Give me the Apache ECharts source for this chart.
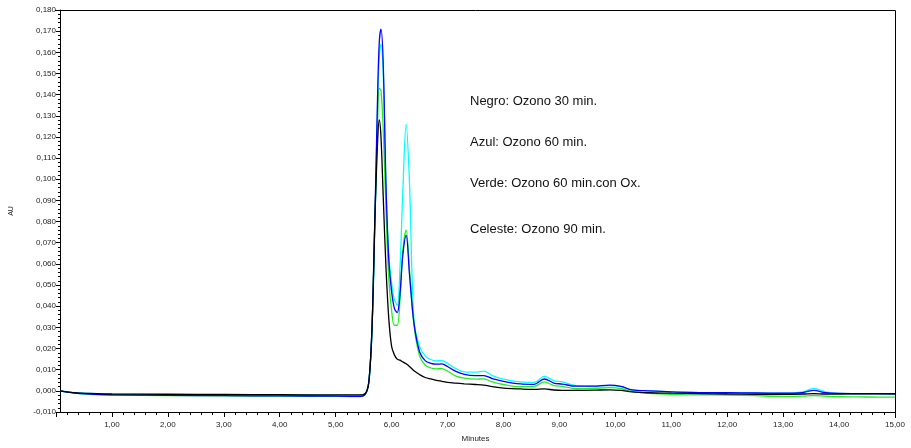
<!DOCTYPE html>
<html>
<head>
<meta charset="utf-8">
<script src="https://cdn.jsdelivr.net/npm/echarts@6/dist/echarts.min.js"></script>
<style>html,body{margin:0;padding:0;background:#fff}#c{width:911px;height:448px}</style>
</head>
<body>
<div id="c"></div>
<script>
const times = [0.07, 0.3, 0.6, 1.0, 2.0, 3.0, 4.0, 5.0, 5.45, 5.55, 5.6, 5.65, 5.7, 5.75, 5.78, 5.81, 5.85, 5.9, 5.95, 6.0, 6.05, 6.1, 6.15, 6.2, 6.26, 6.32, 6.4, 6.5, 6.6, 6.7, 6.8, 6.9, 7.0, 7.15, 7.3, 7.5, 7.65, 7.8, 8.0, 8.3, 8.55, 8.73, 8.9, 9.05, 9.3, 9.6, 9.9, 10.1, 10.3, 10.6, 11.0, 11.5, 12.0, 12.5, 13.0, 13.35, 13.55, 13.75, 14.0, 14.5, 15.0];

const negro = [0, -0.0008, -0.0012, -0.0015, -0.0016, -0.0017, -0.0018, -0.0019, -0.0019, -0.0004, 0.006, 0.03, 0.08, 0.118, 0.128, 0.12, 0.092, 0.058, 0.034, 0.021, 0.017, 0.015, 0.0145, 0.0137, 0.0128, 0.0115, 0.0095, 0.0077, 0.0063, 0.0056, 0.005, 0.0045, 0.004, 0.0036, 0.0033, 0.003, 0.0027, 0.002, 0.0013, 0.0009, 0.0007, 0.0009, 0.0004, 0.0002, 0.0002, 0.0003, 0.0005, 0.0002, -0.0005, -0.0009, -0.0011, -0.0013, -0.0015, -0.0016, -0.0016, -0.0015, -0.0013, -0.0015, -0.0015, -0.0014, -0.0014];

const azul = [0, -0.0009, -0.0015, -0.0019, -0.0021, -0.0023, -0.0024, -0.0025, -0.0026, -0.0006, 0.006, 0.03, 0.08, 0.14, 0.165, 0.171, 0.155, 0.097, 0.062, 0.047, 0.039, 0.037, 0.046, 0.064, 0.0735, 0.055, 0.032, 0.0185, 0.0143, 0.013, 0.0126, 0.0127, 0.0115, 0.0092, 0.0078, 0.0072, 0.0072, 0.0058, 0.0045, 0.0033, 0.0031, 0.0056, 0.0037, 0.0032, 0.0022, 0.0022, 0.0027, 0.0021, 0.0005, 0, -0.0005, -0.0008, -0.0009, -0.001, -0.0011, -0.0008, 0.0002, -0.0008, -0.0012, -0.0013, -0.0014];

const verde = [0, -0.001, -0.0016, -0.002, -0.0022, -0.0024, -0.0025, -0.0026, -0.0027, -0.0007, 0.0055, 0.029, 0.078, 0.128, 0.143, 0.142, 0.124, 0.085, 0.053, 0.038, 0.031, 0.031, 0.043, 0.066, 0.076, 0.057, 0.031, 0.0165, 0.0122, 0.0108, 0.0104, 0.0105, 0.0094, 0.007, 0.006, 0.0055, 0.0057, 0.0042, 0.003, 0.002, 0.0021, 0.0042, 0.0025, 0.0021, 0.001, 0.0012, 0.0015, 0.0011, -0.0004, -0.0012, -0.0017, -0.0019, -0.002, -0.0023, -0.0026, -0.0025, -0.0022, -0.0025, -0.0028, -0.0029, -0.003];

const celeste = [0, -0.0007, -0.0012, -0.0016, -0.0018, -0.0019, -0.002, -0.0021, -0.0022, -0.0005, 0.006, 0.029, 0.078, 0.135, 0.158, 0.1637, 0.15, 0.095, 0.064, 0.051, 0.043, 0.0405, 0.058, 0.094, 0.126, 0.098, 0.033, 0.021, 0.0165, 0.0148, 0.0142, 0.0143, 0.013, 0.0105, 0.009, 0.0088, 0.0093, 0.0072, 0.0055, 0.0042, 0.004, 0.0068, 0.0048, 0.0042, 0.0025, 0.0022, 0.0025, 0.002, 0.0004, 0, -0.0005, -0.0008, -0.0009, -0.001, -0.0011, -0.0005, 0.0012, -0.0005, -0.0012, -0.0013, -0.0014];

const legendTexts = ['Negro: Ozono 30 min.', 'Azul: Ozono 60 min.', 'Verde: Ozono 60 min.con Ox.', 'Celeste: Ozono 90 min.'];
const legendY = [101, 142, 183, 229];

function pairs(vals){ return times.map((t,i)=>[t, vals[i]]); }
const font = 'Liberation Sans, Arial, sans-serif';
const chart = echarts.init(document.getElementById('c'), null, {renderer:'canvas'});
function mkSeries(name, vals, color){
  return {name, type:'line', data:pairs(vals), smooth:0.35, showSymbol:false, symbol:'none',
    lineStyle:{color, width:1.3}, itemStyle:{color}, animation:false, z:2};
}
chart.setOption({
  animation:false,
  grid:{left:51, right:16, top:10, bottom:30, show:false},
  xAxis:{type:'value', min:0, max:15, interval:1,
    axisLine:{onZero:false, lineStyle:{color:'#000', width:1}},
    axisTick:{length:5, lineStyle:{color:'#000'}},
    minorTick:{show:true, splitNumber:5, length:3, lineStyle:{color:'#000'}},
    splitLine:{show:false},
    axisLabel:{fontSize:8, fontFamily:font, color:'#222', margin:9,
      formatter:v=> v>0.5 ? v.toFixed(2).replace('.',',') : ''},
    name:'Minutes', nameLocation:'middle', nameGap:23, nameTextStyle:{fontSize:8, fontFamily:font, color:'#222'}
  },
  yAxis:{type:'value', min:-0.01, max:0.18, interval:0.01, offset:-4,
    axisLine:{show:true, lineStyle:{color:'#000', width:1}},
    axisTick:{show:true, length:4, lineStyle:{color:'#000'}},
    minorTick:{show:true, splitNumber:5, length:2, lineStyle:{color:'#000'}},
    splitLine:{show:false},
    axisLabel:{fontSize:8, fontFamily:font, color:'#222', margin:4,
      formatter:v=> (v<0?'-':'') + Math.abs(v).toFixed(3).replace('.',',')},
    name:'AU', nameLocation:'middle', nameGap:45, nameRotate:90, nameTextStyle:{fontSize:7, fontFamily:font, color:'#222'}
  },
  graphic: [{type:'polyline', shape:{points:[[55,10.5],[895.5,10.5],[895.5,418]]}, style:{stroke:'#000', lineWidth:1, fill:null}, z:5}]
    .concat(legendTexts.map((t,i)=>({type:'text', left:470, top:legendY[i]-6, style:{text:t, font:'13px '+font, fill:'#111'}}))),
  series:[
    mkSeries('Celeste', celeste, '#00ffff'),
    mkSeries('Verde', verde, '#22ee22'),
    mkSeries('Azul', azul, '#0000ff'),
    mkSeries('Negro', negro, '#000000')
  ]
});
</script>
</body>
</html>
